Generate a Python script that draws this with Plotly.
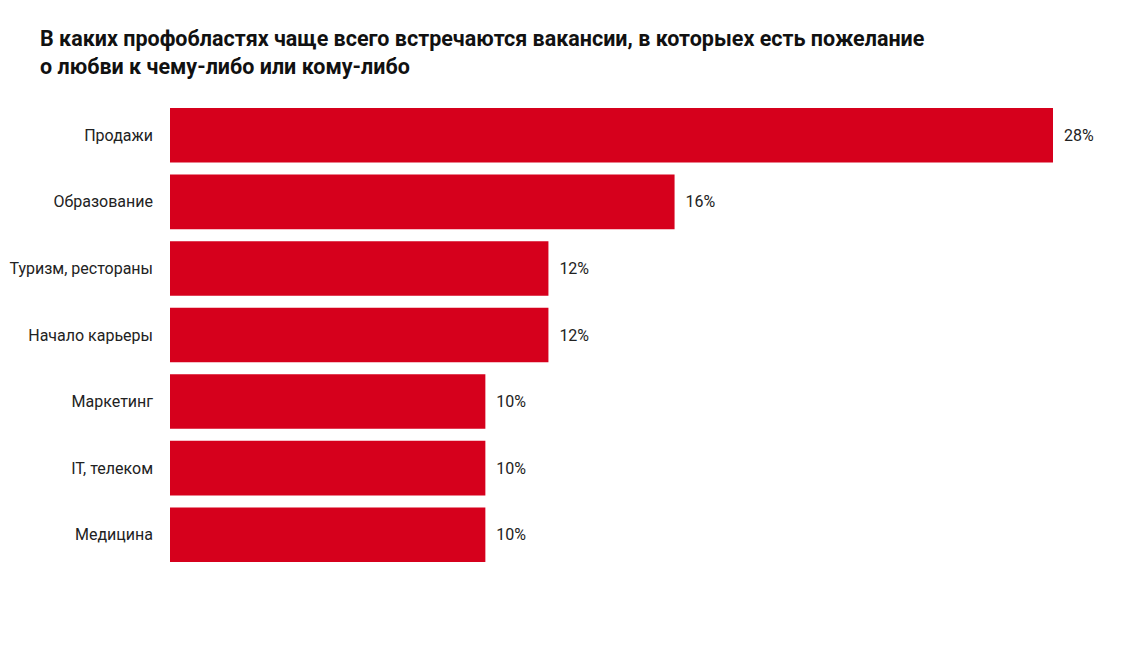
import plotly.graph_objects as go

# data
categories = ["Продажи", "Образование", "Туризм, рестораны", "Начало карьеры",
              "Маркетинг", "IT, телеком", "Медицина"]
values = [28, 16, 12, 12, 10, 10, 10]
labels = [f"{v}%" for v in values]

title_text = ("<b>В каких профобластях чаще всего встречаются вакансии, в которыех есть пожелание<br>"
              "о любви к чему-либо или кому-либо</b>")

bar = go.Bar(
    x=values,
    y=categories,
    orientation="h",
    marker=dict(color="#D6001C", line=dict(width=0)),
    text=labels,
    textposition="outside",
    texttemplate="  %{text}",
    textfont=dict(size=16, color="#222222", family="Roboto"),
    cliponaxis=False,
    hoverinfo="skip",
)

layout = go.Layout(
    width=1139,
    height=658,
    paper_bgcolor="white",
    plot_bgcolor="white",
    margin=dict(l=162, r=94, t=94, b=98),
    title=dict(text=title_text, x=32 / 1139, xref="container", xanchor="left",
               y=0.942, yanchor="top",
               font=dict(size=21.5, color="#111111", family="Roboto")),
    bargap=0.18,
    showlegend=False,
    xaxis=dict(range=[0, 28], visible=False, fixedrange=True),
    yaxis=dict(autorange="reversed", showgrid=False, zeroline=False,
               showline=False, ticks="", ticklabelstandoff=16, automargin=False,
               tickfont=dict(size=16, color="#222222", family="Roboto")),
    font=dict(family="Roboto"),
)

fig = go.Figure(data=[bar], layout=layout)
fig.write_html("out.html")
